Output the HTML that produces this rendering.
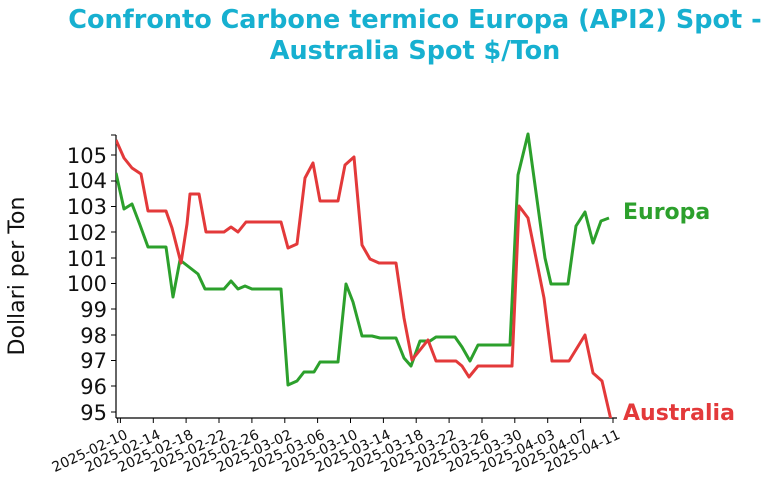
<!DOCTYPE html>
<html><head><meta charset="utf-8"><style>body{margin:0;background:#fff}svg{display:block}</style></head>
<body>
<svg width="777" height="493" xmlns="http://www.w3.org/2000/svg" font-family="DejaVu Sans, Liberation Sans, sans-serif">
<text x="415" y="28" text-anchor="middle" font-size="25.5" font-weight="bold" fill="#17b0d0">Confronto Carbone termico Europa (API2) Spot -</text>
<text x="415" y="59" text-anchor="middle" font-size="25.5" font-weight="bold" fill="#17b0d0">Australia Spot $/Ton</text>
<text transform="translate(24,276) rotate(-90)" text-anchor="middle" font-size="22" fill="#111">Dollari per Ton</text>
<g stroke="#000" stroke-width="1.2">
<line x1="116" y1="135" x2="116" y2="418"/>
<line x1="116" y1="418" x2="617" y2="418"/>
</g>
<g font-size="21" fill="#111" text-anchor="end">
<text x="107" y="420">95</text><text x="107" y="394">96</text><text x="107" y="368">97</text><text x="107" y="343">98</text><text x="107" y="317">99</text><text x="107" y="291">100</text><text x="107" y="266">101</text><text x="107" y="240">102</text><text x="107" y="214">103</text><text x="107" y="188">104</text><text x="107" y="163">105</text>
</g>
<g stroke="#000" stroke-width="1">
<line x1="111" y1="412" x2="116" y2="412"/><line x1="111" y1="386" x2="116" y2="386"/><line x1="111" y1="360.5" x2="116" y2="360.5"/><line x1="111" y1="335" x2="116" y2="335"/><line x1="111" y1="309" x2="116" y2="309"/><line x1="111" y1="283.5" x2="116" y2="283.5"/><line x1="111" y1="258" x2="116" y2="258"/><line x1="111" y1="232" x2="116" y2="232"/><line x1="111" y1="206.5" x2="116" y2="206.5"/><line x1="111" y1="181" x2="116" y2="181"/><line x1="111" y1="155" x2="116" y2="155"/><line x1="111" y1="135" x2="116" y2="135"/>
<line x1="117.7" y1="418" x2="117.7" y2="423"/><line x1="613" y1="418" x2="613" y2="423"/>
<line x1="120.4" y1="418" x2="120.4" y2="423"/><line x1="153.3" y1="418" x2="153.3" y2="423"/><line x1="186.1" y1="418" x2="186.1" y2="423"/><line x1="219" y1="418" x2="219" y2="423"/><line x1="251.9" y1="418" x2="251.9" y2="423"/><line x1="284.8" y1="418" x2="284.8" y2="423"/><line x1="317.6" y1="418" x2="317.6" y2="423"/><line x1="350.5" y1="418" x2="350.5" y2="423"/><line x1="383.4" y1="418" x2="383.4" y2="423"/><line x1="416.2" y1="418" x2="416.2" y2="423"/><line x1="449.1" y1="418" x2="449.1" y2="423"/><line x1="482" y1="418" x2="482" y2="423"/><line x1="514.8" y1="418" x2="514.8" y2="423"/><line x1="547.7" y1="418" x2="547.7" y2="423"/><line x1="580.6" y1="418" x2="580.6" y2="423"/>
</g>
<g font-size="14" fill="#111" text-anchor="end">
<text transform="translate(124.4,429) rotate(-25)" dy="0.7em">2025-02-10</text>
<text transform="translate(157.3,429) rotate(-25)" dy="0.7em">2025-02-14</text>
<text transform="translate(190.1,429) rotate(-25)" dy="0.7em">2025-02-18</text>
<text transform="translate(223,429) rotate(-25)" dy="0.7em">2025-02-22</text>
<text transform="translate(255.9,429) rotate(-25)" dy="0.7em">2025-02-26</text>
<text transform="translate(288.8,429) rotate(-25)" dy="0.7em">2025-03-02</text>
<text transform="translate(321.6,429) rotate(-25)" dy="0.7em">2025-03-06</text>
<text transform="translate(354.5,429) rotate(-25)" dy="0.7em">2025-03-10</text>
<text transform="translate(387.4,429) rotate(-25)" dy="0.7em">2025-03-14</text>
<text transform="translate(420.2,429) rotate(-25)" dy="0.7em">2025-03-18</text>
<text transform="translate(453.1,429) rotate(-25)" dy="0.7em">2025-03-22</text>
<text transform="translate(486,429) rotate(-25)" dy="0.7em">2025-03-26</text>
<text transform="translate(518.8,429) rotate(-25)" dy="0.7em">2025-03-30</text>
<text transform="translate(551.7,429) rotate(-25)" dy="0.7em">2025-04-03</text>
<text transform="translate(584.6,429) rotate(-25)" dy="0.7em">2025-04-07</text>
<text transform="translate(617,429) rotate(-25)" dy="0.7em">2025-04-11</text>
</g>
<defs><clipPath id="c"><rect x="116" y="130" width="500" height="288"/></clipPath></defs>
<g clip-path="url(#c)" fill="none" stroke-width="3" stroke-linejoin="round">
<polyline stroke="#2ca02c" points="116,173 124,209 132,204 140,225 148,247 166,247 173,297 180,260 198,274 205,289 224,289 231,281 238,289 245,286 252,289 281,289 288,385 297,381 304,372 314,372 320,362 338,362 346,284 353,302 362,336 372,336 380,338 396,338 404,358 411,366 420,341 430,341 436,337 455,337 462,347 470,361 478,345 510,345 518,175 528,134 545,258 551,284 568,284 576,226 585,212 593,243 601,221 609,218"/>
<polyline stroke="#e3393a" points="116,140 124,158 132,168 141,174 148,211 166,211 172,228 181,263 187,224 190,194 199,194 206,232 224,232 231,227 238,232 246,222 281,222 288,248 297,244 305,178 313,163 320,201 338,201 345,165 354,157 362,245 370,259 379,263 396,263 404,318 412,360 428,340 436,361 456,361 462,366 469,377 478,366 512,366 519,206 528,218 544,298 552,361 569,361 585,335 593,373 602,381 611,420"/>
</g>
<text x="623" y="219" font-size="22" font-weight="bold" fill="#2ca02c">Europa</text>
<text x="623" y="420" font-size="22" font-weight="bold" fill="#e3393a">Australia</text>
</svg>
</body></html>
